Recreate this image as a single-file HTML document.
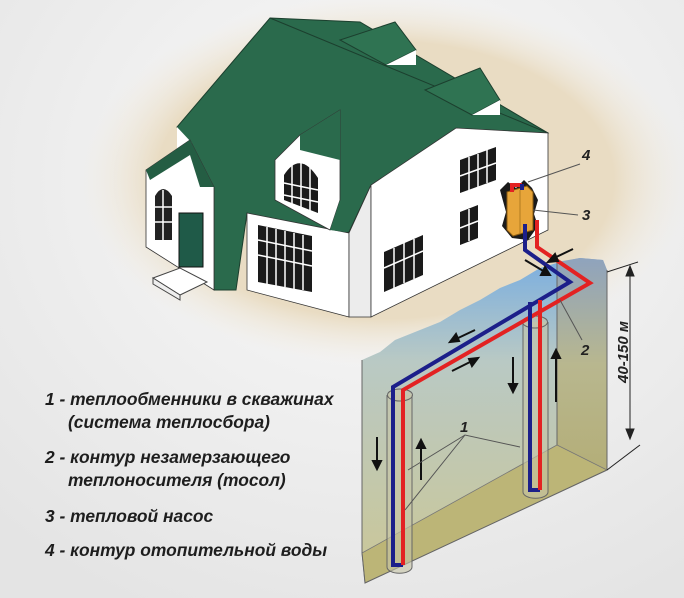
<!DOCTYPE html>
<html><head><meta charset="utf-8"><style>
html,body{margin:0;padding:0;}
body{width:684px;height:598px;overflow:hidden;background:#f4f4f4;}
svg{display:block;}
.t{font-family:"Liberation Sans",sans-serif;font-style:italic;font-weight:bold;font-size:17.4px;fill:#1e1e1e;}
.n{font-family:"Liberation Sans",sans-serif;font-style:italic;font-weight:bold;font-size:15px;fill:#222;}
</style></head><body>
<svg width="684" height="598" viewBox="0 0 684 598" xmlns="http://www.w3.org/2000/svg">
<defs>
<radialGradient id="bg" cx="0.55" cy="0.3" r="0.8">
<stop offset="0" stop-color="#fafafa"/><stop offset="1" stop-color="#e4e4e4"/></radialGradient>
<radialGradient id="el" cx="0.5" cy="0.5" r="0.5">
<stop offset="0.75" stop-color="#e9dcc3"/><stop offset="1" stop-color="#f2ece0" stop-opacity="0"/></radialGradient>
<linearGradient id="fr" x1="0" y1="0" x2="0" y2="1">
<stop offset="0" stop-color="#7aaee0"/><stop offset="0.35" stop-color="#b9c9c4"/><stop offset="1" stop-color="#c9c79c"/></linearGradient>
<linearGradient id="sd" x1="0" y1="0" x2="0" y2="1">
<stop offset="0" stop-color="#8fa3bd"/><stop offset="0.5" stop-color="#b8b78f"/><stop offset="1" stop-color="#b4ae78"/></linearGradient>
</defs>
<rect width="684" height="598" fill="url(#bg)"/>
<ellipse cx="385" cy="180" rx="305" ry="185" fill="url(#el)"/>

<!-- house -->
<polygon points="270,18 360,22 548,133 371,185 349,232 320,240 247,213 236,290 214,290 214,187 177,127" fill="#2a6a4c" stroke="#1c3f2e" stroke-width="1"/>
<line x1="270" y1="18" x2="548" y2="133" stroke="#1c3f2e"/>
<polygon points="340,40 395,22 416,50 386,65" fill="#2f7352" stroke="#1c3f2e"/>
<polygon points="386,65 416,50 416,65" fill="#fff"/>
<polygon points="425,90 480,68 500,100 472,115" fill="#2f7352" stroke="#1c3f2e"/>
<polygon points="472,115 500,100 500,115" fill="#fff"/>
<polygon points="177,127 192,143 177,150" fill="#fff"/>
<polygon points="146,170 190,140 214,187 214,290 146,247" fill="#fff" stroke="#333" stroke-width="0.8"/>
<polygon points="146,170 190,140 214,187 200,187 190,155 150,180" fill="#245d43"/>
<rect x="179" y="213" width="24" height="54" fill="#1f5a48" stroke="#111"/>
<path d="M155,240 V196 Q163,182 172,196 V240 Z" fill="#222"/>
<path d="M163,190 V240 M155,207 H172 M155,222 H172" stroke="#fff" stroke-width="1.5"/>
<polygon points="153,278 180,268 207,282 180,295" fill="#fff" stroke="#444"/>
<polygon points="153,278 180,295 180,300 153,284" fill="#eee" stroke="#444"/>
<polygon points="247,213 349,233 349,317 247,290" fill="#fff" stroke="#333" stroke-width="0.8"/>
<polygon points="258,225 312,236 312,292 258,282" fill="#1a1a1a"/>
<g stroke="#fff" stroke-width="1.5"><line x1="267" y1="227" x2="267" y2="284"/><line x1="276" y1="229" x2="276" y2="286"/><line x1="285" y1="231" x2="285" y2="287"/><line x1="294" y1="233" x2="294" y2="289"/><line x1="303" y1="235" x2="303" y2="290"/><line x1="258" y1="240" x2="312" y2="251"/><line x1="258" y1="255" x2="312" y2="266"/></g>
<polygon points="349,233 371,185 371,317 349,317" fill="#ececec" stroke="#333" stroke-width="0.8"/>
<polygon points="275,160 300,135 340,110 340,200 330,230 275,200" fill="#fff" stroke="#333" stroke-width="0.8"/>
<polygon points="300,135 340,110 340,160 300,150" fill="#2a6a4c"/>
<polygon points="330,230 340,200 345,232" fill="#2a6a4c"/>
<path d="M284,200 V175 Q300,150 318,178 V213 Z" fill="#1a1a1a"/>
<g stroke="#fff" stroke-width="1.5"><line x1="292" y1="165" x2="292" y2="205"/><line x1="301" y1="162" x2="301" y2="208"/><line x1="310" y1="166" x2="310" y2="211"/><line x1="284" y1="183" x2="318" y2="190"/><line x1="284" y1="195" x2="318" y2="202"/></g>
<polygon points="371,185 456,128 548,133 548,230 371,317" fill="#fff" stroke="#333" stroke-width="0.8"/>
<polygon points="460,160 496,147 496,180 460,193" fill="#1a1a1a"/>
<g stroke="#fff" stroke-width="1.5"><line x1="469" y1="157" x2="469" y2="190"/><line x1="478" y1="154" x2="478" y2="187"/><line x1="487" y1="150" x2="487" y2="183"/><line x1="460" y1="176" x2="496" y2="163"/></g>
<polygon points="460,212 478,205 478,238 460,245" fill="#1a1a1a"/>
<g stroke="#fff" stroke-width="1.5"><line x1="469" y1="209" x2="469" y2="241"/><line x1="460" y1="228" x2="478" y2="221"/></g>
<polygon points="384,252 423,235 423,275 384,292" fill="#1a1a1a"/>
<g stroke="#fff" stroke-width="1.5"><line x1="394" y1="248" x2="394" y2="288"/><line x1="404" y1="243" x2="404" y2="283"/><line x1="414" y1="239" x2="414" y2="279"/><line x1="384" y1="268" x2="423" y2="251"/></g>
<path d="M500,190 L508,182 516,188 524,180 532,188 538,200 534,214 538,226 528,240 512,238 502,226 506,212 Z" fill="#1a1a1a"/>
<polygon points="507,192 527,186 533,192 533,230 513,236 507,230" fill="#e7a53a" stroke="#8a5a10"/>
<line x1="520" y1="190" x2="520" y2="234" stroke="#b07a20"/>

<!-- ground block -->
<polygon points="362,360 380,352 395,340 420,330 440,322 460,310 480,300 500,288 520,280 540,268 560,262 580,258 603,260 607,270 607,470 557,445 362,553" fill="url(#fr)"/>
<polygon points="557,262 580,258 603,260 607,270 607,470 557,445" fill="url(#sd)"/>
<polygon points="362,553 557,445 607,470 365,583" fill="#bcb577" stroke="#777" stroke-width="0.8"/>
<polyline points="362,360 362,553 365,583 607,470 607,270" fill="none" stroke="#666" stroke-width="1"/>
<line x1="557" y1="262" x2="557" y2="445" stroke="#666"/>
<g fill="#c6c4a6" fill-opacity="0.6" stroke="#666" stroke-width="1">
<path d="M387,395 V567 A12,6 0 0 0 412,567 V395"/><ellipse cx="400" cy="395" rx="12.5" ry="6"/>
<path d="M523,322 V492 A12,6 0 0 0 548,492 V322"/><ellipse cx="535" cy="322" rx="12.5" ry="6"/>
</g>
<g fill="none" stroke-width="4" stroke-linejoin="miter">
<polyline points="525,224 525,250 570,282 393,387 393,565 403,565" stroke="#1c1f8a"/>
<polyline points="537,220 537,247 590,283 403,390 403,565" stroke="#e32222"/>
<polyline points="530,302 530,490 540,490" stroke="#1c1f8a"/>
<polyline points="540,300 540,490" stroke="#e32222"/>
<polyline points="512,192 512,185 522,185" stroke="#e32222"/>
<polyline points="522,190 522,184" stroke="#1c1f8a"/>
</g>
<g stroke="#111" stroke-width="2" fill="#111">
<line x1="550" y1="260" x2="573" y2="249"/><polygon points="548,262 555,254 558,261"/>
<line x1="525" y1="260" x2="545" y2="272"/><polygon points="550,275 541,275 545,267"/>
<line x1="475" y1="330" x2="456" y2="339"/><polygon points="450,342 456,334 459,341"/>
<line x1="452" y1="371" x2="472" y2="361"/><polygon points="478,358 472,366 469,359"/>
<line x1="513" y1="357" x2="513" y2="386"/><polygon points="509,384 517,384 513,392"/>
<line x1="556" y1="357" x2="556" y2="402"/><polygon points="552,358 560,358 556,350"/>
<line x1="377" y1="437" x2="377" y2="463"/><polygon points="373,461 381,461 377,469"/>
<line x1="421" y1="446" x2="421" y2="480"/><polygon points="417,448 425,448 421,440"/>
</g>
<g stroke="#222" stroke-width="1" fill="#222">
<line x1="630" y1="268" x2="630" y2="437"/>
<polygon points="626,276 634,276 630,266"/><polygon points="626,429 634,429 630,439"/>
<line x1="607" y1="272" x2="638" y2="262"/><line x1="607" y1="470" x2="640" y2="445"/>
</g>
<text class="n" transform="translate(628,352) rotate(-90)" text-anchor="middle" font-size="16">40-150 м</text>
<g stroke="#555" stroke-width="1" fill="none">
<line x1="528" y1="182" x2="580" y2="164"/><line x1="533" y1="210" x2="578" y2="215"/>
<line x1="560" y1="300" x2="582" y2="340"/>
<polyline points="405,510 465,435 520,447"/><line x1="465" y1="435" x2="408" y2="470"/>
</g>
<text class="n" x="582" y="160">4</text>
<text class="n" x="582" y="220">3</text>
<text class="n" x="581" y="355">2</text>
<text class="n" x="460" y="432">1</text>
<text class="t" x="45" y="405">1 - теплообменники в скважинах</text>
<text class="t" x="68" y="428">(система теплосбора)</text>
<text class="t" x="45" y="463">2 - контур незамерзающего</text>
<text class="t" x="68" y="486">теплоносителя (тосол)</text>
<text class="t" x="45" y="522">3 - тепловой насос</text>
<text class="t" x="45" y="556">4 - контур отопительной воды</text>
</svg>
</body></html>
